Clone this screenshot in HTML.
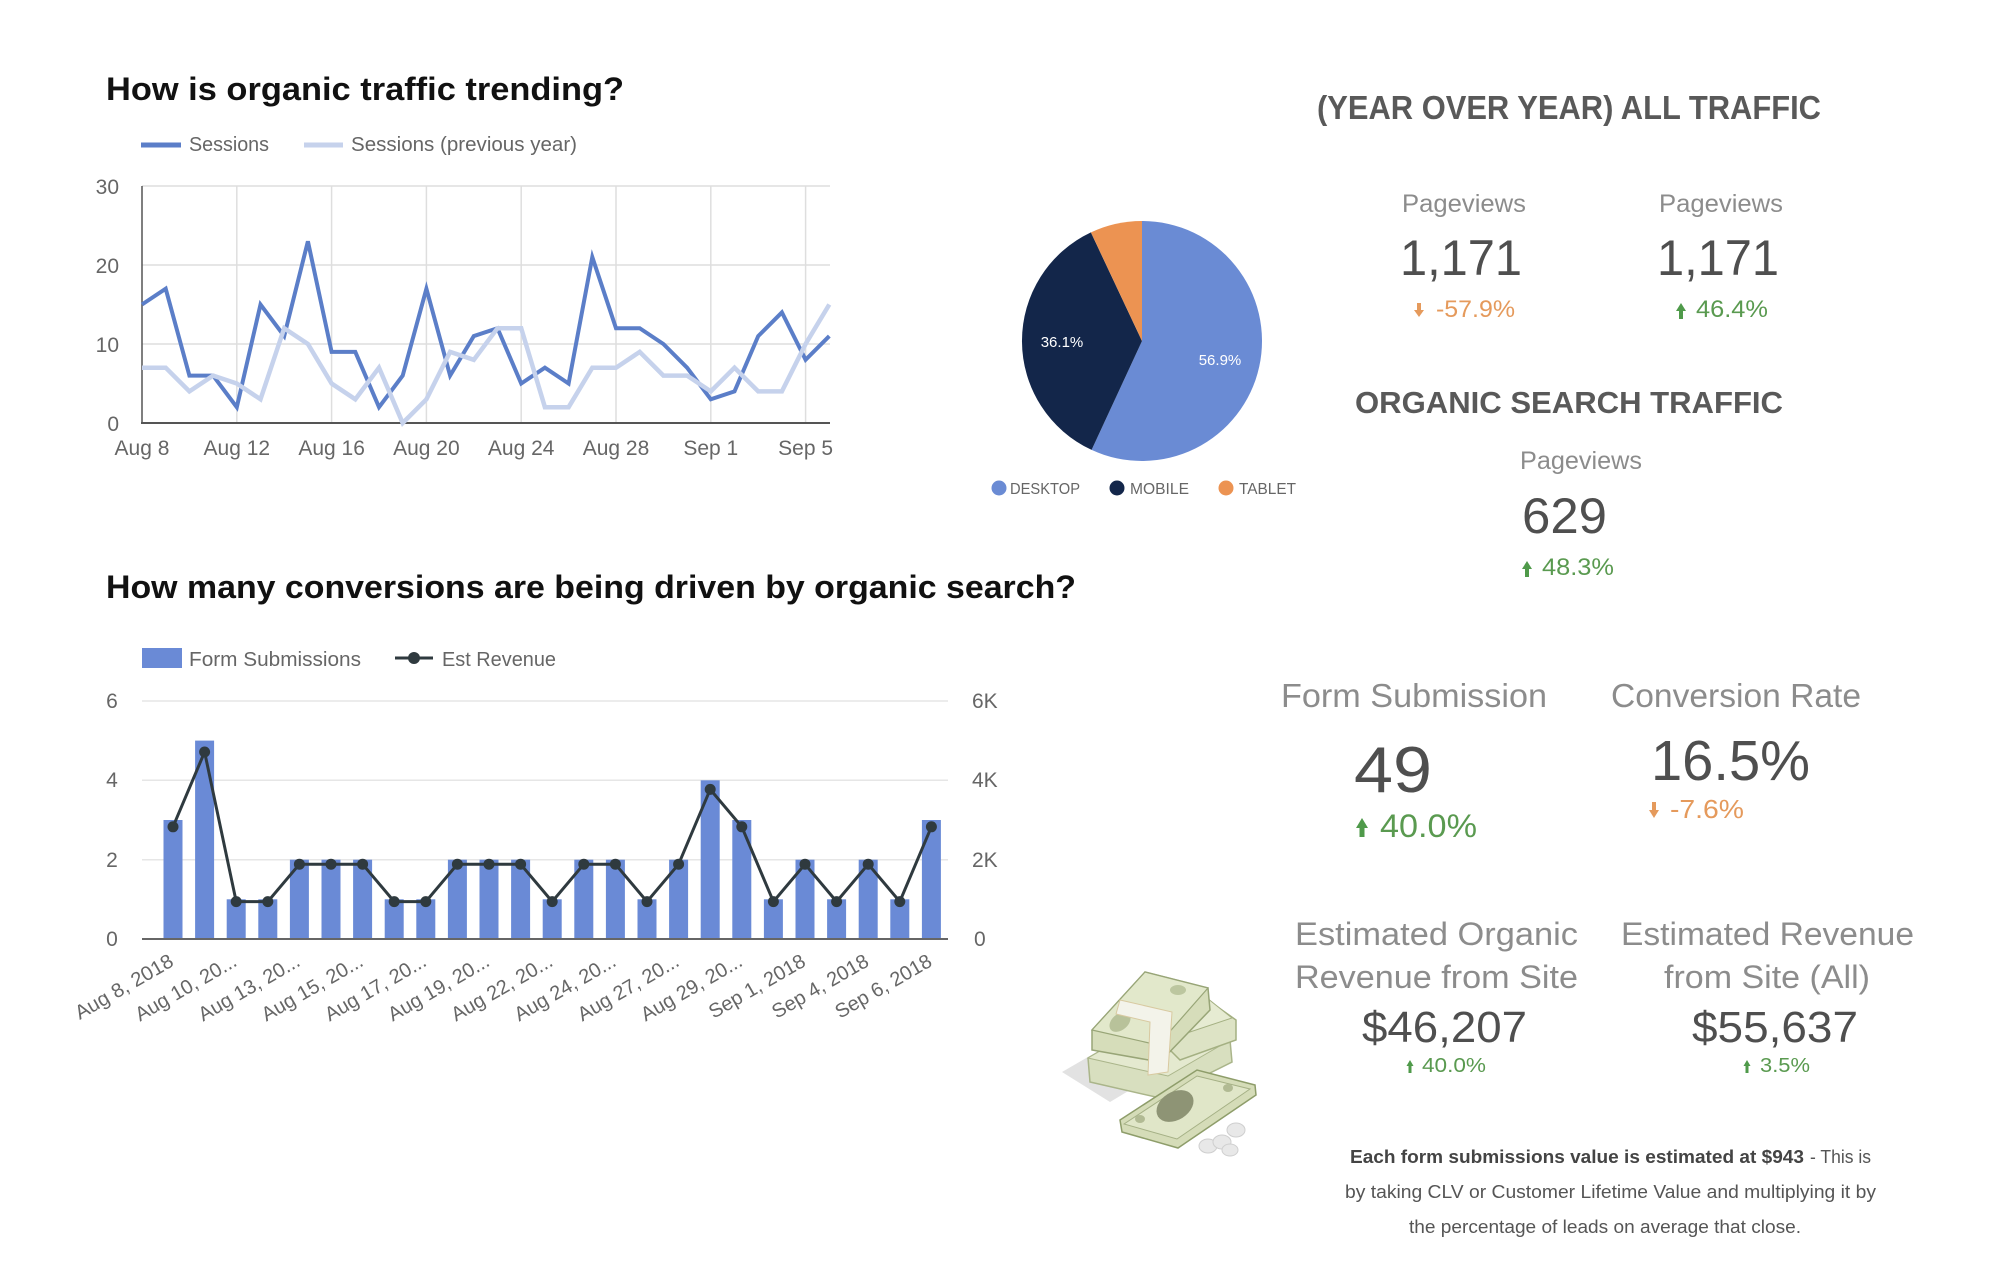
<!DOCTYPE html>
<html>
<head>
<meta charset="utf-8">
<style>
  html, body { margin: 0; padding: 0; background: #ffffff; }
  body { width: 2000px; height: 1280px; overflow: hidden; }
  svg { display: block; font-family: "Liberation Sans", Arial, sans-serif; }
</style>
</head>
<body>
<svg width="2000" height="1280" viewBox="0 0 2000 1280" xmlns="http://www.w3.org/2000/svg">
  <rect x="0" y="0" width="2000" height="1280" fill="#ffffff"/>

  <!-- ============ CHART 1 ============ -->
  <text x="106" y="100" font-size="32" font-weight="bold" fill="#111" textLength="518" lengthAdjust="spacingAndGlyphs">How is organic traffic trending?</text>

  <!-- legend -->
  <line x1="141" y1="145" x2="181" y2="145" stroke="#5b7ec8" stroke-width="5"/>
  <text x="189" y="151" font-size="20" fill="#666" textLength="80" lengthAdjust="spacingAndGlyphs">Sessions</text>
  <line x1="304" y1="145" x2="343" y2="145" stroke="#c6d2ec" stroke-width="5"/>
  <text x="351" y="151" font-size="20" fill="#666" textLength="226" lengthAdjust="spacingAndGlyphs">Sessions (previous year)</text>

  <!-- grid -->
  <g stroke="#dedede" stroke-width="1.5">
    <line x1="142" y1="186" x2="830" y2="186"/>
    <line x1="142" y1="265" x2="830" y2="265"/>
    <line x1="142" y1="344" x2="830" y2="344"/>
    <line x1="236.8" y1="186" x2="236.8" y2="423"/>
    <line x1="331.6" y1="186" x2="331.6" y2="423"/>
    <line x1="426.4" y1="186" x2="426.4" y2="423"/>
    <line x1="521.2" y1="186" x2="521.2" y2="423"/>
    <line x1="616" y1="186" x2="616" y2="423"/>
    <line x1="710.8" y1="186" x2="710.8" y2="423"/>
    <line x1="805.6" y1="186" x2="805.6" y2="423"/>
  </g>
  <line x1="142" y1="186" x2="142" y2="423" stroke="#555" stroke-width="1.5"/>
  <line x1="141" y1="423" x2="830" y2="423" stroke="#555" stroke-width="2"/>

  <!-- y labels -->
  <g font-size="21" fill="#666" text-anchor="end">
    <text x="119" y="194">30</text>
    <text x="119" y="273">20</text>
    <text x="119" y="352">10</text>
    <text x="119" y="431">0</text>
  </g>
  <!-- x labels -->
  <g font-size="21" fill="#666" text-anchor="middle">
    <text x="142" y="455">Aug 8</text>
    <text x="236.8" y="455">Aug 12</text>
    <text x="331.6" y="455">Aug 16</text>
    <text x="426.4" y="455">Aug 20</text>
    <text x="521.2" y="455">Aug 24</text>
    <text x="616" y="455">Aug 28</text>
    <text x="710.8" y="455">Sep 1</text>
    <text x="805.6" y="455">Sep 5</text>
  </g>

  <!-- series -->
  <polyline fill="none" stroke="#5b7ec8" stroke-width="4" stroke-linejoin="miter" points="142,304.5 165.7,288.7 189.4,375.6 213.1,375.6 236.8,407.2 260.5,304.5 284.2,336.1 307.9,241.3 331.6,351.9 355.3,351.9 379,407.2 402.7,375.6 426.4,288.7 450.1,375.6 473.8,336.1 497.5,328.2 521.2,383.5 544.9,367.7 568.6,383.5 592.3,257.1 616,328.2 639.7,328.2 663.4,344 687.1,367.7 710.8,399.3 734.5,391.4 758.2,336.1 781.9,312.4 805.6,359.8 829.3,336.1"/>
  <polyline fill="none" stroke="#c6d2ec" stroke-width="4.5" stroke-linejoin="miter" points="142,367.7 165.7,367.7 189.4,391.4 213.1,375.6 236.8,383.5 260.5,399.3 284.2,328.2 307.9,344 331.6,383.5 355.3,399.3 379,367.7 402.7,423 426.4,399.3 450.1,351.9 473.8,359.8 497.5,328.2 521.2,328.2 544.9,407.2 568.6,407.2 592.3,367.7 616,367.7 639.7,351.9 663.4,375.6 687.1,375.6 710.8,391.4 734.5,367.7 758.2,391.4 781.9,391.4 805.6,344 829.3,304.5"/>

  <!-- ============ PIE ============ -->
  <path d="M1142,341 L1142,221 A120,120 0 1 1 1091.6,449.9 Z" fill="#6a8bd4"/>
  <path d="M1142,341 L1091.6,449.9 A120,120 0 0 1 1090.9,232.4 Z" fill="#13264a"/>
  <path d="M1142,341 L1090.9,232.4 A120,120 0 0 1 1142,221 Z" fill="#ec9352"/>
  <text x="1220" y="365" font-size="15" fill="#ffffff" text-anchor="middle">56.9%</text>
  <text x="1062" y="347" font-size="15" fill="#ffffff" text-anchor="middle">36.1%</text>

  <circle cx="999" cy="488" r="7.5" fill="#6a8bd4"/>
  <text x="1010" y="494" font-size="16" fill="#666" textLength="70" lengthAdjust="spacingAndGlyphs">DESKTOP</text>
  <circle cx="1117" cy="488" r="7.5" fill="#13264a"/>
  <text x="1130" y="494" font-size="16" fill="#666" textLength="59" lengthAdjust="spacingAndGlyphs">MOBILE</text>
  <circle cx="1226" cy="488" r="7.5" fill="#ec9352"/>
  <text x="1239" y="494" font-size="16" fill="#666" textLength="57" lengthAdjust="spacingAndGlyphs">TABLET</text>

  <!-- ============ RIGHT TOP KPIs ============ -->
  <text x="1317" y="119" font-size="33" font-weight="bold" fill="#595959" textLength="504" lengthAdjust="spacingAndGlyphs">(YEAR OVER YEAR) ALL TRAFFIC</text>

  <text x="1402" y="212" font-size="25" fill="#8c8c8c" textLength="124" lengthAdjust="spacingAndGlyphs">Pageviews</text>
  <text x="1659" y="212" font-size="25" fill="#8c8c8c" textLength="124" lengthAdjust="spacingAndGlyphs">Pageviews</text>

  <text x="1400" y="275" font-size="50" fill="#4f4f4f" textLength="122" lengthAdjust="spacingAndGlyphs">1,171</text>
  <text x="1657" y="275" font-size="50" fill="#4f4f4f" textLength="122" lengthAdjust="spacingAndGlyphs">1,171</text>

  <!-- down arrow orange -->
  <g fill="#e59a5c">
    <rect x="1417" y="303" width="4" height="8"/>
    <polygon points="1414,310 1424,310 1419,317"/>
  </g>
  <text x="1436" y="317" font-size="24" fill="#e59a5c" textLength="79" lengthAdjust="spacingAndGlyphs">-57.9%</text>

  <g fill="#4f9a4a">
    <polygon points="1676,311 1686,311 1681,303"/>
    <rect x="1679" y="311" width="4" height="8"/>
  </g>
  <text x="1696" y="317" font-size="24" fill="#5a9a50" textLength="72" lengthAdjust="spacingAndGlyphs">46.4%</text>

  <text x="1355" y="413" font-size="31" font-weight="bold" fill="#595959" textLength="428" lengthAdjust="spacingAndGlyphs">ORGANIC SEARCH TRAFFIC</text>
  <text x="1520" y="469" font-size="25" fill="#8c8c8c" textLength="122" lengthAdjust="spacingAndGlyphs">Pageviews</text>
  <text x="1522" y="533" font-size="50" fill="#4f4f4f" textLength="85" lengthAdjust="spacingAndGlyphs">629</text>
  <g fill="#4f9a4a">
    <polygon points="1522,569 1532,569 1527,561"/>
    <rect x="1525" y="569" width="4" height="8"/>
  </g>
  <text x="1542" y="575" font-size="24" fill="#5a9a50" textLength="72" lengthAdjust="spacingAndGlyphs">48.3%</text>

  <!-- ============ CHART 2 ============ -->
  <text x="106" y="598" font-size="32" font-weight="bold" fill="#111" textLength="970" lengthAdjust="spacingAndGlyphs">How many conversions are being driven by organic search?</text>

  <rect x="142" y="648" width="40" height="20" fill="#6a8ad6"/>
  <text x="189" y="666" font-size="20" fill="#666" textLength="172" lengthAdjust="spacingAndGlyphs">Form Submissions</text>
  <line x1="395" y1="658" x2="433" y2="658" stroke="#2f3a3f" stroke-width="3"/>
  <circle cx="414" cy="658" r="6" fill="#2f3a3f"/>
  <text x="442" y="666" font-size="20" fill="#666" textLength="114" lengthAdjust="spacingAndGlyphs">Est Revenue</text>

  <g stroke="#e6e6e6" stroke-width="1.5">
    <line x1="142" y1="701" x2="948" y2="701"/>
    <line x1="142" y1="780.3" x2="948" y2="780.3"/>
    <line x1="142" y1="859.7" x2="948" y2="859.7"/>
  </g>

  <g font-size="21" fill="#666" text-anchor="middle">
    <text x="112" y="708">6</text>
    <text x="112" y="787">4</text>
    <text x="112" y="867">2</text>
    <text x="112" y="946">0</text>
  </g>
  <g font-size="21" fill="#666">
    <text x="972" y="708">6K</text>
    <text x="972" y="787">4K</text>
    <text x="972" y="867">2K</text>
    <text x="974" y="946">0</text>
  </g>

  <!-- bars -->
  <g fill="#6a8ad6">
    <rect x="163.5" y="820" width="19" height="119"/>
    <rect x="195.1" y="740.6" width="19" height="198.4"/>
    <rect x="226.7" y="899.3" width="19" height="39.7"/>
    <rect x="258.3" y="899.3" width="19" height="39.7"/>
    <rect x="289.9" y="859.7" width="19" height="79.3"/>
    <rect x="321.5" y="859.7" width="19" height="79.3"/>
    <rect x="353.1" y="859.7" width="19" height="79.3"/>
    <rect x="384.7" y="899.3" width="19" height="39.7"/>
    <rect x="416.3" y="899.3" width="19" height="39.7"/>
    <rect x="447.9" y="859.7" width="19" height="79.3"/>
    <rect x="479.5" y="859.7" width="19" height="79.3"/>
    <rect x="511.1" y="859.7" width="19" height="79.3"/>
    <rect x="542.7" y="899.3" width="19" height="39.7"/>
    <rect x="574.3" y="859.7" width="19" height="79.3"/>
    <rect x="605.9" y="859.7" width="19" height="79.3"/>
    <rect x="637.5" y="899.3" width="19" height="39.7"/>
    <rect x="669.1" y="859.7" width="19" height="79.3"/>
    <rect x="700.7" y="780.3" width="19" height="158.7"/>
    <rect x="732.3" y="820" width="19" height="119"/>
    <rect x="763.9" y="899.3" width="19" height="39.7"/>
    <rect x="795.5" y="859.7" width="19" height="79.3"/>
    <rect x="827.1" y="899.3" width="19" height="39.7"/>
    <rect x="858.7" y="859.7" width="19" height="79.3"/>
    <rect x="890.3" y="899.3" width="19" height="39.7"/>
    <rect x="921.9" y="820" width="19" height="119"/>
  </g>
  <line x1="142" y1="939" x2="948" y2="939" stroke="#666" stroke-width="2"/>

  <!-- revenue line -->
  <polyline fill="none" stroke="#2f3a3f" stroke-width="3" stroke-linejoin="round" points="173,826.8 204.6,752 236.2,901.6 267.8,901.6 299.4,864.2 331,864.2 362.6,864.2 394.2,901.6 425.8,901.6 457.4,864.2 489,864.2 520.6,864.2 552.2,901.6 583.8,864.2 615.4,864.2 647,901.6 678.6,864.2 710.2,789.4 741.8,826.8 773.4,901.6 805,864.2 836.6,901.6 868.2,864.2 899.8,901.6 931.4,826.8"/>
  <g fill="#2f3a3f">
    <circle cx="173" cy="826.8" r="5.5"/>
    <circle cx="204.6" cy="752" r="5.5"/>
    <circle cx="236.2" cy="901.6" r="5.5"/>
    <circle cx="267.8" cy="901.6" r="5.5"/>
    <circle cx="299.4" cy="864.2" r="5.5"/>
    <circle cx="331" cy="864.2" r="5.5"/>
    <circle cx="362.6" cy="864.2" r="5.5"/>
    <circle cx="394.2" cy="901.6" r="5.5"/>
    <circle cx="425.8" cy="901.6" r="5.5"/>
    <circle cx="457.4" cy="864.2" r="5.5"/>
    <circle cx="489" cy="864.2" r="5.5"/>
    <circle cx="520.6" cy="864.2" r="5.5"/>
    <circle cx="552.2" cy="901.6" r="5.5"/>
    <circle cx="583.8" cy="864.2" r="5.5"/>
    <circle cx="615.4" cy="864.2" r="5.5"/>
    <circle cx="647" cy="901.6" r="5.5"/>
    <circle cx="678.6" cy="864.2" r="5.5"/>
    <circle cx="710.2" cy="789.4" r="5.5"/>
    <circle cx="741.8" cy="826.8" r="5.5"/>
    <circle cx="773.4" cy="901.6" r="5.5"/>
    <circle cx="805" cy="864.2" r="5.5"/>
    <circle cx="836.6" cy="901.6" r="5.5"/>
    <circle cx="868.2" cy="864.2" r="5.5"/>
    <circle cx="899.8" cy="901.6" r="5.5"/>
    <circle cx="931.4" cy="826.8" r="5.5"/>
  </g>

  <!-- rotated x labels -->
  <g font-size="20" fill="#666" text-anchor="end">
    <text transform="translate(175,965) rotate(-30)" textLength="110" lengthAdjust="spacingAndGlyphs">Aug 8, 2018</text>
    <text transform="translate(238.2,965) rotate(-30)">Aug 10, 20...</text>
    <text transform="translate(301.4,965) rotate(-30)">Aug 13, 20...</text>
    <text transform="translate(364.6,965) rotate(-30)">Aug 15, 20...</text>
    <text transform="translate(427.8,965) rotate(-30)">Aug 17, 20...</text>
    <text transform="translate(491,965) rotate(-30)">Aug 19, 20...</text>
    <text transform="translate(554.2,965) rotate(-30)">Aug 22, 20...</text>
    <text transform="translate(617.4,965) rotate(-30)">Aug 24, 20...</text>
    <text transform="translate(680.6,965) rotate(-30)">Aug 27, 20...</text>
    <text transform="translate(743.8,965) rotate(-30)">Aug 29, 20...</text>
    <text transform="translate(807,965) rotate(-30)">Sep 1, 2018</text>
    <text transform="translate(870.2,965) rotate(-30)">Sep 4, 2018</text>
    <text transform="translate(933.4,965) rotate(-30)">Sep 6, 2018</text>
  </g>

  <!-- ============ RIGHT BOTTOM KPIs ============ -->
  <text x="1281" y="707" font-size="33" fill="#8c8c8c" textLength="266" lengthAdjust="spacingAndGlyphs">Form Submission</text>
  <text x="1611" y="707" font-size="33" fill="#8c8c8c" textLength="250" lengthAdjust="spacingAndGlyphs">Conversion Rate</text>

  <text x="1354" y="792" font-size="65" fill="#4f4f4f" textLength="78" lengthAdjust="spacingAndGlyphs">49</text>
  <g fill="#4f9a4a">
    <polygon points="1356,828 1368,828 1362,818"/>
    <rect x="1359.5" y="828" width="5" height="9"/>
  </g>
  <text x="1380" y="837" font-size="32" fill="#5a9a50" textLength="97" lengthAdjust="spacingAndGlyphs">40.0%</text>

  <text x="1651" y="780" font-size="57" fill="#4f4f4f" textLength="159" lengthAdjust="spacingAndGlyphs">16.5%</text>
  <g fill="#e59a5c">
    <rect x="1652" y="802" width="4" height="9"/>
    <polygon points="1649,810 1659,810 1654,818"/>
  </g>
  <text x="1670" y="818" font-size="26" fill="#e59a5c" textLength="74" lengthAdjust="spacingAndGlyphs">-7.6%</text>

  <text x="1295" y="945" font-size="32" fill="#8c8c8c" textLength="283" lengthAdjust="spacingAndGlyphs">Estimated Organic</text>
  <text x="1295" y="988" font-size="32" fill="#8c8c8c" textLength="283" lengthAdjust="spacingAndGlyphs">Revenue from Site</text>
  <text x="1621" y="945" font-size="32" fill="#8c8c8c" textLength="293" lengthAdjust="spacingAndGlyphs">Estimated Revenue</text>
  <text x="1664" y="988" font-size="32" fill="#8c8c8c" textLength="206" lengthAdjust="spacingAndGlyphs">from Site (All)</text>

  <text x="1362" y="1042" font-size="44" fill="#4f4f4f" textLength="165" lengthAdjust="spacingAndGlyphs">$46,207</text>
  <text x="1692" y="1042" font-size="44" fill="#4f4f4f" textLength="166" lengthAdjust="spacingAndGlyphs">$55,637</text>

  <g fill="#4f9a4a">
    <polygon points="1406.5,1066 1413.5,1066 1410,1060"/>
    <rect x="1408.5" y="1066" width="3" height="7"/>
    <polygon points="1743.5,1066 1750.5,1066 1747,1060"/>
    <rect x="1745.5" y="1066" width="3" height="7"/>
  </g>
  <text x="1422" y="1072" font-size="20" fill="#5a9a50" textLength="64" lengthAdjust="spacingAndGlyphs">40.0%</text>
  <text x="1760" y="1072" font-size="20" fill="#5a9a50" textLength="50" lengthAdjust="spacingAndGlyphs">3.5%</text>

  <!-- footnote -->
  <text x="1350" y="1163" font-size="18" font-weight="bold" fill="#444" textLength="454" lengthAdjust="spacingAndGlyphs">Each form submissions value is estimated at $943</text>
  <text x="1810" y="1163" font-size="18" fill="#555" textLength="61" lengthAdjust="spacingAndGlyphs">- This is</text>
  <text x="1345" y="1198" font-size="18" fill="#555" textLength="531" lengthAdjust="spacingAndGlyphs">by taking CLV or Customer Lifetime Value and multiplying it by</text>
  <text x="1409" y="1233" font-size="18" fill="#555" textLength="392" lengthAdjust="spacingAndGlyphs">the percentage of leads on average that close.</text>

  <!-- ============ MONEY ILLUSTRATION ============ -->
  <g>
    <!-- shadow -->
    <polygon points="1062,1072 1100,1050 1150,1078 1110,1102" fill="#e2e2e2"/>
    <!-- lower stack -->
    <polygon points="1088,1058 1150,1022 1230,1040 1232,1062 1160,1098 1090,1082" fill="#d8dfbf" stroke="#aab58a" stroke-width="1.5"/>
    <polygon points="1088,1058 1150,1022 1230,1040 1168,1076" fill="#e4e9cf" stroke="#aab58a" stroke-width="1"/>
    <!-- back stack -->
    <polygon points="1150,985 1205,998 1236,1020 1236,1040 1180,1060 1150,1030" fill="#dde3c5" stroke="#a4b082" stroke-width="1.5"/>
    <polygon points="1152,985 1207,998 1232,1018 1178,1036" fill="#e6ebd2" stroke="#a4b082" stroke-width="1"/>
    <!-- top stack -->
    <polygon points="1092,1030 1145,972 1208,988 1210,1010 1160,1062 1092,1050" fill="#d6ddba" stroke="#98a577" stroke-width="1.5"/>
    <polygon points="1092,1030 1145,972 1208,988 1158,1045" fill="#e2e8cb" stroke="#98a577" stroke-width="1.2"/>
    <ellipse cx="1120" cy="1022" rx="12" ry="8" fill="#b8c29a" transform="rotate(-40 1120 1022)"/>
    <ellipse cx="1178" cy="990" rx="8" ry="5" fill="#bcc69f"/>
    <!-- band -->
    <polygon points="1120,1000 1172,1012 1168,1072 1148,1075 1150,1022 1116,1014" fill="#f3f3ea" stroke="#d8c9a0" stroke-width="1"/>
    <!-- single bill -->
    <polygon points="1120,1120 1197,1070 1255,1085 1256,1095 1178,1148 1122,1132" fill="#d5dcb8" stroke="#8e9d6a" stroke-width="1.5"/>
    <polygon points="1124,1124 1197,1076 1250,1089 1177,1139" fill="#e0e6c8" stroke="#a5b085" stroke-width="1"/>
    <ellipse cx="1175" cy="1106" rx="20" ry="14" fill="#8e9475" transform="rotate(-32 1175 1106)"/>
    <ellipse cx="1140" cy="1119" rx="5" ry="4" fill="#b1ba93"/>
    <ellipse cx="1228" cy="1088" rx="5" ry="4" fill="#b1ba93"/>
    <!-- coins -->
    <g fill="#e8e8e8" stroke="#cfcfcf" stroke-width="1">
      <ellipse cx="1236" cy="1130" rx="9" ry="7"/>
      <ellipse cx="1208" cy="1146" rx="9" ry="7"/>
      <ellipse cx="1222" cy="1142" rx="9" ry="7"/>
      <ellipse cx="1230" cy="1150" rx="8" ry="6"/>
    </g>
  </g>
</svg>
</body>
</html>
